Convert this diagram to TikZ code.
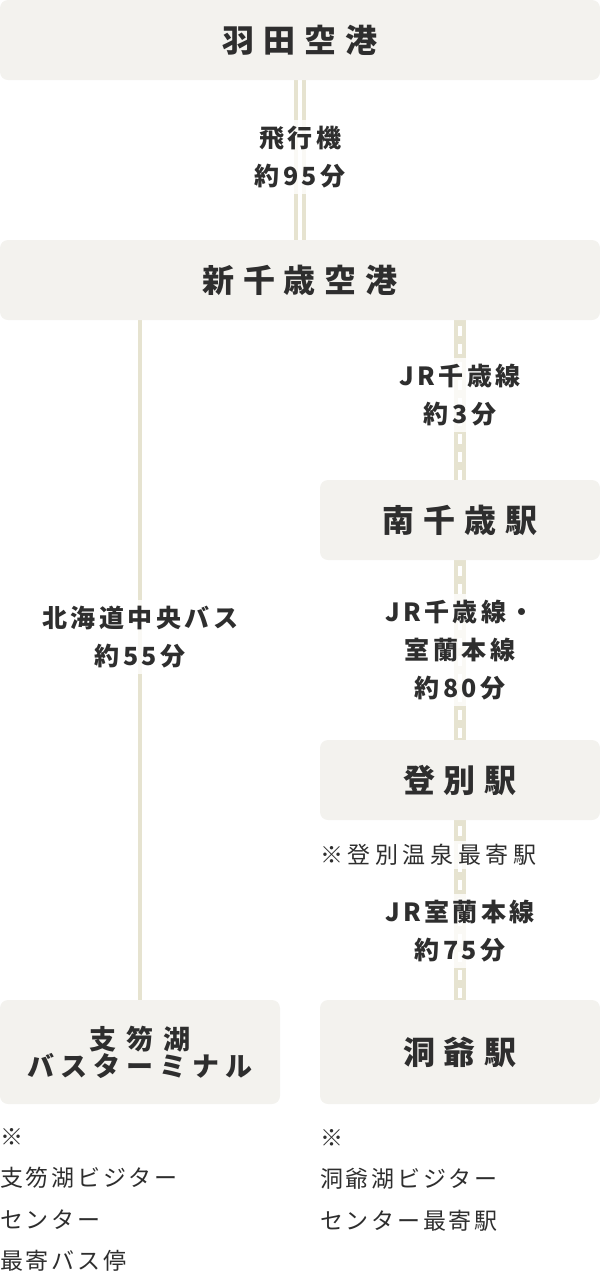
\documentclass[tikz,border=0pt]{standalone}
\usepackage{fontspec}
\usetikzlibrary{backgrounds}
\setmainfont{Noto Sans CJK JP}
\newfontfamily\jpttlf[LetterSpace=28]{Noto Sans CJK JP}
\newfontfamily\jpbusa[LetterSpace=38]{Noto Sans CJK JP}
\newfontfamily\jpbusb[LetterSpace=22]{Noto Sans CJK JP}
\newfontfamily\jplabf[LetterSpace=14]{Noto Sans CJK JP}
\newfontfamily\jpnotef[LetterSpace=12]{Noto Sans CJK JP}
\newfontfamily\jpnotew[LetterSpace=20]{Noto Sans CJK JP}
\newcommand\fttl{\jpttlf\bfseries\fontsize{32}{38}\selectfont}
\newcommand\fbusa{\jpbusa\bfseries\fontsize{27}{37}\selectfont}
\newcommand\fbusb{\jpbusb\bfseries\fontsize{27}{37}\selectfont}
\newcommand\flab{\jplabf\bfseries\fontsize{25}{38}\selectfont}
\newcommand\fnote{\jpnotef\fontsize{23}{41.5}\selectfont}
\newcommand\fnotew{\jpnotew\fontsize{23}{41.5}\selectfont}
\definecolor{boxc}{HTML}{F3F2EE}
\definecolor{linec}{HTML}{E6E3D0}
\definecolor{txt}{HTML}{2E2E2E}
\tikzset{
  stbox/.style={fill=boxc, rounded corners=8pt, inner sep=0pt, text=txt, align=center},
  lab/.style={fill=white, fill opacity=0.8, text opacity=1, text=txt, align=center, font=\flab, inner sep=6pt},
  note/.style={text=txt, align=left, font=\fnote, inner sep=0pt, anchor=west},
  planeline/.style={linec, line width=4pt},
  busline/.style={linec, line width=4pt},
  jrline/.style={linec, line width=12pt},
  jrdash/.style={white, line width=4pt, dash pattern=on 10pt off 8pt, dash phase=-6pt},
}
\begin{document}
\begin{tikzpicture}[x=1pt, y=-1pt]
\useasboundingbox (0,0) rectangle (600,1278);
% stations
\node[stbox, minimum width=600pt, minimum height=80pt] (haneda) at (300,40) {\fttl 羽田空港};
\node[stbox, minimum width=600pt, minimum height=80pt] (chitose) at (300,280) {\fttl 新千歳空港};
\node[stbox, minimum width=280pt, minimum height=80pt] (minami) at (460,520) {\fttl 南千歳駅};
\node[stbox, minimum width=280pt, minimum height=80pt] (nobori) at (460,780) {\fttl 登別駅};
\node[stbox, minimum width=280pt, minimum height=104pt] (shikotsu) at (140,1052) {\fbusa 支笏湖\\\fbusb バスターミナル};
\node[stbox, minimum width=280pt, minimum height=104pt] (toya) at (460,1052) {\fttl 洞爺駅};
% connectors
\begin{scope}[on background layer]
\draw[planeline] ([xshift=-4pt]haneda.south) -- ([xshift=-4pt]chitose.north);
\draw[planeline] ([xshift=4pt]haneda.south) -- ([xshift=4pt]chitose.north);
\draw[busline] (shikotsu.north |- chitose.south) -- (shikotsu.north);
\draw[jrline] (minami.north |- chitose.south) -- (minami.north);
\draw[jrdash] (minami.north |- chitose.south) -- (minami.north);
\draw[jrline] (minami.south) -- (nobori.north);
\draw[jrdash] (minami.south) -- (nobori.north);
\draw[jrline] (nobori.south) -- (toya.north);
\draw[jrdash] (nobori.south) -- (toya.north);
\end{scope}
% labels
\node[lab] (lplane) at (300,157) {飛行機\\約95分};
\node[lab] (ljr1) at (460,395) {JR千歳線\\約3分};
\node[lab] (lbus) at (140,637) {北海道中央バス\\約55分};
\node[lab] (ljr2) at (460,650) {JR千歳線・\\室蘭本線\\約80分};
\node[lab, font=\fnotew, inner sep=3pt, anchor=west] (nnobori) at (317,855) {※登別温泉最寄駅};
\node[lab] (ljr3) at (460,931) {JR室蘭本線\\約75分};
% notes
\node[note] (nshikotsu) at (0,1200) {※\\支笏湖ビジター\\センター\\最寄バス停};
\node[note] (ntoya) at (320,1180) {※\\洞爺湖ビジター\\センター最寄駅};
\end{tikzpicture}
\end{document}
